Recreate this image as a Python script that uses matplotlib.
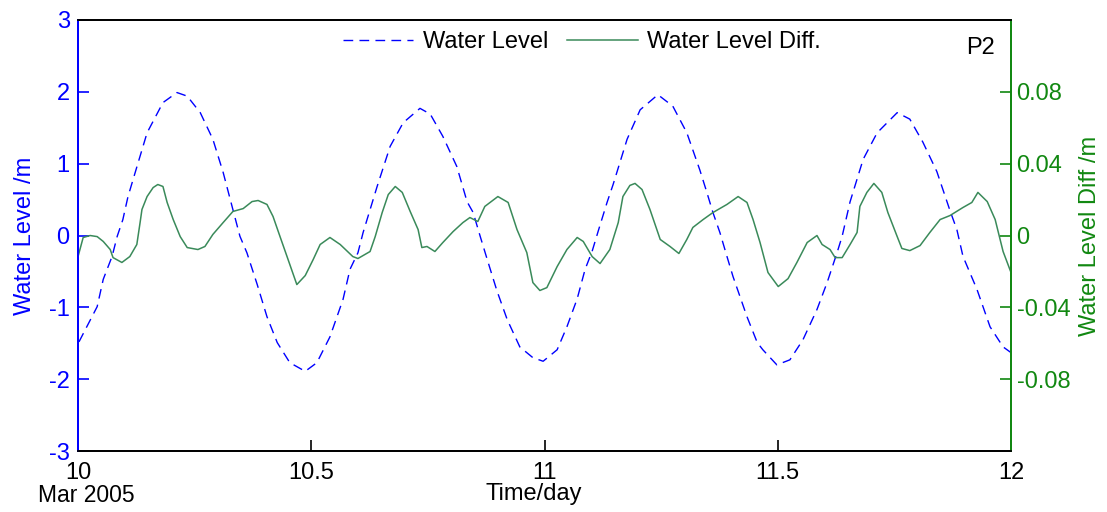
import matplotlib
matplotlib.use('Agg')
import matplotlib.pyplot as plt

plt.rcParams['font.family'] = ['Liberation Sans', 'DejaVu Sans']
plt.rcParams['axes.unicode_minus'] = False

# water level (left axis, m)
wl_t = [10.002, 10.041, 10.054, 10.073, 10.084, 10.096, 10.107, 10.118, 10.148, 10.182,
        10.212, 10.234, 10.262, 10.289, 10.311, 10.332, 10.347, 10.362, 10.384, 10.405,
        10.427, 10.454, 10.487, 10.512, 10.540, 10.568, 10.583, 10.600, 10.611, 10.626,
        10.641, 10.669, 10.697, 10.733, 10.755, 10.782, 10.812, 10.834, 10.847, 10.862,
        10.877, 10.898, 10.920, 10.947, 10.975, 10.997, 11.027, 11.048, 11.070, 11.087,
        11.102, 11.115, 11.134, 11.147, 11.177, 11.205, 11.243, 11.275, 11.305, 11.333,
        11.348, 11.361, 11.376, 11.391, 11.404, 11.434, 11.456, 11.468, 11.498, 11.526,
        11.554, 11.584, 11.606, 11.627, 11.638, 11.655, 11.683, 11.713, 11.756, 11.783,
        11.811, 11.841, 11.869, 11.884, 11.897, 11.927, 11.955, 11.983, 12.000]
wl = [-1.48, -0.99, -0.61, -0.29, -0.01, 0.22, 0.54, 0.78, 1.43, 1.85,
      1.99, 1.94, 1.71, 1.34, 0.88, 0.36, -0.01, -0.24, -0.68, -1.13,
      -1.49, -1.77, -1.89, -1.77, -1.41, -0.89, -0.47, -0.24, 0.04, 0.36,
      0.68, 1.24, 1.57, 1.77, 1.69, 1.38, 0.96, 0.47, 0.32, -0.01,
      -0.33, -0.77, -1.17, -1.55, -1.70, -1.75, -1.59, -1.27, -0.88, -0.47,
      -0.22, 0.06, 0.46, 0.71, 1.34, 1.75, 1.96, 1.80, 1.43, 0.91,
      0.60, 0.32, 0.04, -0.29, -0.57, -1.13, -1.49, -1.59, -1.80, -1.73,
      -1.45, -1.03, -0.65, -0.24, -0.01, 0.47, 1.06, 1.43, 1.71, 1.62,
      1.30, 0.89, 0.35, 0.08, -0.29, -0.75, -1.27, -1.55, -1.63]

# water level difference (right axis, m)
wd_t = [10.000, 10.011, 10.026, 10.041, 10.054, 10.069, 10.075, 10.094, 10.111, 10.126,
        10.133, 10.137, 10.148, 10.161, 10.171, 10.182, 10.191, 10.204, 10.219, 10.234,
        10.257, 10.272, 10.289, 10.311, 10.332, 10.354, 10.373, 10.386, 10.405, 10.418,
        10.433, 10.448, 10.469, 10.487, 10.504, 10.519, 10.540, 10.562, 10.589, 10.600,
        10.626, 10.637, 10.652, 10.665, 10.680, 10.695, 10.712, 10.729, 10.737, 10.748,
        10.765, 10.782, 10.804, 10.825, 10.840, 10.857, 10.872, 10.900, 10.922, 10.941,
        10.962, 10.975, 10.990, 11.005, 11.027, 11.048, 11.070, 11.083, 11.102, 11.119,
        11.140, 11.158, 11.168, 11.183, 11.194, 11.209, 11.226, 11.248, 11.269, 11.288,
        11.305, 11.318, 11.340, 11.361, 11.391, 11.415, 11.434, 11.447, 11.462, 11.479,
        11.501, 11.522, 11.541, 11.563, 11.584, 11.595, 11.612, 11.623, 11.638, 11.655,
        11.670, 11.676, 11.691, 11.706, 11.723, 11.736, 11.756, 11.766, 11.783, 11.805,
        11.826, 11.848, 11.869, 11.897, 11.916, 11.929, 11.949, 11.966, 11.983, 12.000]
wd = [-0.0117, -0.0011, 0.0000, -0.0006, -0.0033, -0.0078, -0.0123, -0.0150, -0.0117, -0.0050,
      0.0072, 0.0145, 0.0217, 0.0267, 0.0284, 0.0273, 0.0184, 0.0089, -0.0006, -0.0067,
      -0.0078, -0.0061, 0.0006, 0.0072, 0.0134, 0.0150, 0.0189, 0.0195, 0.0173, 0.0106,
      -0.0006, -0.0117, -0.0273, -0.0223, -0.0134, -0.0050, -0.0011, -0.0050, -0.0117, -0.0128,
      -0.0089, -0.0006, 0.0128, 0.0228, 0.0273, 0.0240, 0.0134, 0.0033, -0.0067, -0.0061,
      -0.0089, -0.0039, 0.0022, 0.0072, 0.0100, 0.0078, 0.0162, 0.0217, 0.0184, 0.0033,
      -0.0095, -0.0262, -0.0306, -0.0290, -0.0173, -0.0078, -0.0011, -0.0033, -0.0117, -0.0156,
      -0.0078, 0.0072, 0.0217, 0.0279, 0.0290, 0.0256, 0.0145, -0.0022, -0.0061, -0.0100,
      -0.0022, 0.0045, 0.0089, 0.0128, 0.0173, 0.0217, 0.0184, 0.0089, -0.0039, -0.0206,
      -0.0284, -0.0240, -0.0150, -0.0039, 0.0000, -0.0050, -0.0078, -0.0123, -0.0123, -0.0050,
      0.0017, 0.0162, 0.0240, 0.0290, 0.0240, 0.0128, -0.0006, -0.0072, -0.0084, -0.0056,
      0.0017, 0.0089, 0.0111, 0.0156, 0.0184, 0.0240, 0.0189, 0.0089, -0.0089, -0.0206]

x_ticks = [10, 10.5, 11, 11.5, 12]
x_labels = ['10', '10.5', '11', '11.5', '12']
left_ticks = [-3, -2, -1, 0, 1, 2, 3]
right_ticks = [-0.08, -0.04, 0, 0.04, 0.08]
right_labels = ['-0.08', '-0.04', '0', '0.04', '0.08']

BLUE = '#0000ff'
GREEN_AX = '#118811'
GREEN_LN = '#3a8a5a'

fig = plt.figure(figsize=(11.07, 5.12), dpi=100)
ax = fig.add_axes([0.0705, 0.119, 0.8428, 0.842])
ax2 = ax.twinx()

l1, = ax.plot(wl_t, wl, color=BLUE, lw=1.0, linestyle=(0, (7, 4.5)))
l2, = ax2.plot(wd_t, wd, color=GREEN_LN, lw=1.1)

ax.set_xlim(10, 12)
ax.set_ylim(-3, 3)
ax2.set_ylim(-0.12, 0.12)

ax.set_xticks(x_ticks)
ax.set_xticklabels(x_labels)
ax.set_yticks(left_ticks)
ax2.set_yticks(right_ticks)
ax2.set_yticklabels(right_labels)

fs = 17
ax.tick_params(axis='x', direction='in', length=8, width=1.2, pad=8, labelsize=fs, colors='black')
ax.tick_params(axis='y', direction='in', length=8, width=1.2, pad=6, labelsize=fs, colors=BLUE)
ax2.tick_params(axis='y', direction='in', length=8, width=1.2, pad=4, labelsize=fs, colors=GREEN_AX)

for a in (ax, ax2):
    a.spines['top'].set_color('black')
    a.spines['bottom'].set_color('black')
    a.spines['left'].set_color(BLUE)
    a.spines['right'].set_color(GREEN_AX)
    for s in a.spines.values():
        s.set_linewidth(1.3)

ax.set_xlabel('Time/day', fontsize=fs)
ax.xaxis.set_label_coords(0.488, -0.073)
ax.set_ylabel('Water Level /m', fontsize=fs, color=BLUE)
ax.yaxis.set_label_coords(-0.045, 0.5)
ax2.set_ylabel('Water Level Diff /m', fontsize=fs, color=GREEN_AX, rotation=90)
ax2.yaxis.set_label_coords(1.073, 0.5)

ax.text(0.0086, -0.076, 'Mar 2005', transform=ax.transAxes, fontsize=16.5,
        ha='center', va='top')
ax2.text(0.967, 0.935, 'P2', transform=ax2.transAxes, fontsize=fs,
         ha='center', va='center')

ax2.legend([l1, l2], ['Water Level', 'Water Level Diff.'], loc='center',
           bbox_to_anchor=(0.54, 0.949), ncol=2, frameon=False, fontsize=fs,
           handlelength=3.0, handletextpad=0.4, columnspacing=0.8)

fig.savefig('out.png', dpi=100)
